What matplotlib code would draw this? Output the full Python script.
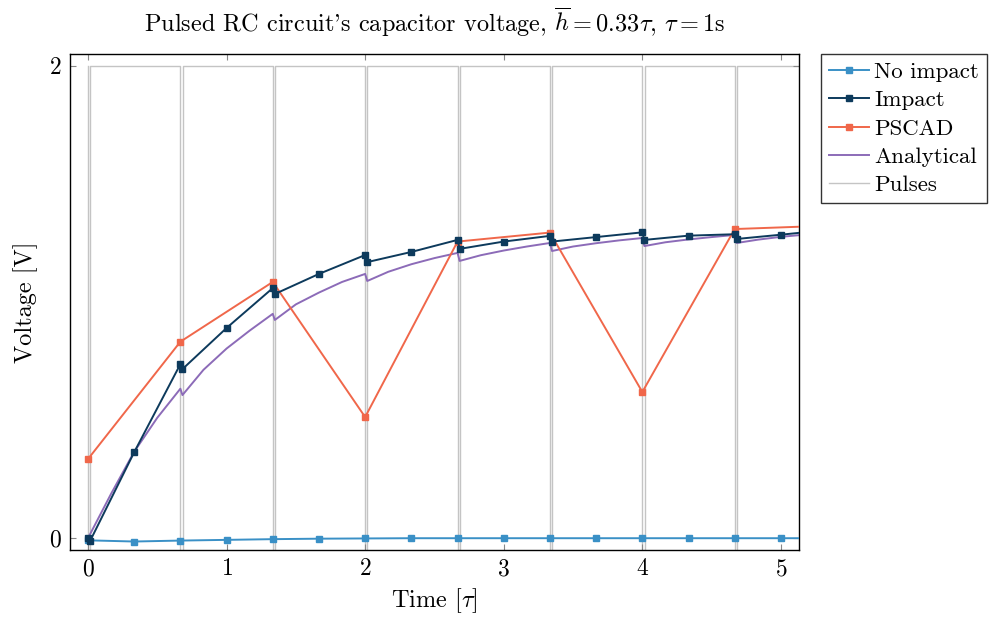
import numpy as np
import matplotlib
matplotlib.use("Agg")
import matplotlib.pyplot as plt

plt.rcParams["font.family"] = "serif"
plt.rcParams["font.serif"] = ["cmr10"]
plt.rcParams["mathtext.fontset"] = "cm"
plt.rcParams["axes.formatter.use_mathtext"] = True

# sample times (step h = 1/3), pulses every 2 steps
dt = 0.015
t_steps = [0, 1/3, 2/3, 1, 4/3, 5/3, 2, 7/3, 8/3, 3, 10/3, 11/3, 4, 13/3, 14/3, 5, 16/3]
pulse_times = [0, 2/3, 4/3, 2, 8/3, 10/3, 4, 14/3, 16/3]

no_impact = [-0.009, -0.014, -0.010, -0.007, -0.004, -0.002, -0.001, 0.0, 0.0,
             0.0, 0.0, 0.0, 0.0, 0.0, 0.0, 0.0, 0.0]

# impact: values before / after each pulse
impact_t = [0, dt, 1/3, 2/3, 2/3 + dt, 1, 4/3, 4/3 + dt, 5/3, 2, 2 + dt, 7/3,
            8/3, 8/3 + dt, 3, 10/3, 10/3 + dt, 11/3, 4, 4 + dt, 13/3,
            14/3, 14/3 + dt, 5, 16/3]
impact = [0.0, -0.012, 0.364, 0.737, 0.716, 0.890, 1.059, 1.034, 1.119, 1.199, 1.169,
          1.212, 1.263, 1.225, 1.256, 1.280, 1.256, 1.275, 1.295, 1.263, 1.281,
          1.287, 1.267, 1.285, 1.305]

pscad = [0.335, 0.832, 1.085, 0.513, 1.256, 1.294, 0.619, 1.309, 1.323]

analytical_t = [0, 1/6, 1/3, 1/2, 2/3,
                2/3 + dt, 5/6, 1, 7/6, 4/3,
                4/3 + dt, 3/2, 5/3, 11/6, 2,
                2 + dt, 13/6, 7/3, 5/2, 8/3,
                8/3 + dt, 17/6, 3, 19/6, 10/3,
                10/3 + dt, 7/2, 11/3, 23/6, 4,
                4 + dt, 25/6, 13/3, 9/2, 14/3,
                14/3 + dt, 29/6, 5, 31/6]
analytical = [0.0, 0.188, 0.366, 0.510, 0.633,
              0.606, 0.713, 0.803, 0.879, 0.950,
              0.924, 0.990, 1.040, 1.085, 1.119,
              1.089, 1.128, 1.160, 1.186, 1.208,
              1.174, 1.198, 1.218, 1.235, 1.250,
              1.216, 1.235, 1.249, 1.261, 1.271,
              1.237, 1.253, 1.265, 1.275, 1.284,
              1.250, 1.264, 1.276, 1.285]

# pulse train: high level 2, short dips at each pulse
pw = 0.016
pulse_x, pulse_y = [], []
for p in pulse_times:
    pulse_x += [p, p, p + pw, p + pw]
    pulse_y += [2, -1, -1, 2]

fig = plt.figure(figsize=(9.91, 6.21), dpi=100)
ax = fig.add_axes([0.0706, 0.1143, 0.7356, 0.7987])

ax.plot(pulse_x, pulse_y, color="#c4c4c4", lw=1.0, label="Pulses", zorder=1)
ax.plot(t_steps, no_impact, color="#3a90c6", lw=1.4, marker="s", ms=4.5,
        label="No impact", zorder=3)
ax.plot(impact_t, impact, color="#0d3a5c", lw=1.4, marker="s", ms=4.5,
        label="Impact", zorder=4)
ax.plot(pulse_times, pscad, color="#f0674a", lw=1.4, marker="s", ms=4.5,
        label="PSCAD", zorder=3)
ax.plot(analytical_t, analytical, color="#8c6bb8", lw=1.4,
        label="Analytical", zorder=2)

ax.set_xlim(-0.13, 5.13)
ax.set_ylim(-0.05, 2.05)
ax.set_xticks([0, 1, 2, 3, 4, 5])
ax.set_yticks([0, 2])
ax.tick_params(direction="in", top=True, right=True, labelsize=17, length=4,
               color="#888888", pad=6)
for s in ax.spines.values():
    s.set_linewidth(1.0)

ax.set_xlabel(r"Time [$\tau$]", fontsize=17.5, labelpad=4)
ax.set_ylabel("Voltage [V]", fontsize=17.5, labelpad=8)
ax.set_title(r"Pulsed RC circuit's capacitor voltage, $\overline{h}=0.33\tau$, $\tau=1$s",
             fontsize=17.5, pad=16)

handles, labels = ax.get_legend_handles_labels()
order = [1, 2, 3, 4, 0]
leg = ax.legend([handles[i] for i in order], [labels[i] for i in order],
                loc="upper left", bbox_to_anchor=(1.03, 1.0), fontsize=16.5,
                frameon=True, fancybox=False, edgecolor="black",
                handlelength=1.75, handletextpad=0.22, borderaxespad=0,
                labelspacing=0.36, borderpad=0.35)
leg.get_frame().set_linewidth(1.0)

fig.savefig("out.png", dpi=100)
